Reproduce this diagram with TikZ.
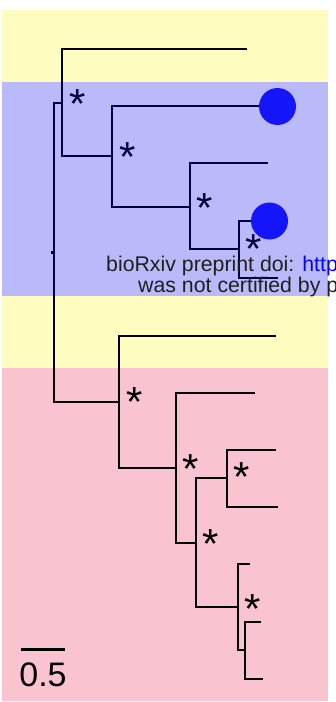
\documentclass[tikz,border=0pt]{standalone}
\usepackage{fontspec}
\setmainfont{Liberation Sans}
\definecolor{bandyellow}{RGB}{255,252,191}
\definecolor{bandpink}{RGB}{249,196,208}
\definecolor{bandblue}{RGB}{0,0,240}
\definecolor{tipblue}{RGB}{30,30,255}
\begin{document}
\begin{tikzpicture}[x=1pt,y=-1pt,
  branch/.style={line width=2.5pt, black},
  ast/.style={font=\fontsize{42}{42}\selectfont, inner sep=0pt, anchor=base},
  tipdot/.style={circle, fill=tipblue, minimum size=37pt, inner sep=0pt},
  wm/.style={font=\fontsize{21.3}{25}\selectfont, inner sep=0pt, anchor=base west, text=black!88}]
\useasboundingbox (0,0) rectangle (335,702);
\clip (0,0) rectangle (335,702);
% bands
\fill[bandyellow] (2,10) rectangle (328,82);
\fill[bandyellow] (2,296) rectangle (328,368);
\fill[bandpink] (2,368) rectangle (328,701);
% tree coordinates
\coordinate (r0) at (51,252.5);
\coordinate (r) at (54,252.5);
\coordinate (b) at (62,103);
\coordinate (c) at (112,156);
\coordinate (d) at (190,207);
\coordinate (e) at (239,249);
\coordinate (f) at (119,402);
\coordinate (g) at (176,468);
\coordinate (h) at (196,543);
\coordinate (i) at (227,478);
\coordinate (j) at (238,607);
\coordinate (k) at (245,650);
\coordinate (L1) at (247,49);
\coordinate (L2) at (265,106);
\coordinate (L3) at (268,163);
\coordinate (L4) at (262,221);
\coordinate (L5) at (278,278);
\coordinate (L6) at (276,336);
\coordinate (L7) at (255,393);
\coordinate (L8) at (276,450);
\coordinate (L9) at (278,507);
\coordinate (L10) at (250,564);
\coordinate (L11) at (261,622);
\coordinate (L12) at (263,679);
% branches
\draw[branch] (r0) -- (r);
\draw[branch] (r) |- (b);
\draw[branch] (r) |- (f);
\draw[branch] (b) |- (L1);
\draw[branch] (b) |- (c);
\draw[branch] (c) |- (L2);
\draw[branch] (c) |- (d);
\draw[branch] (d) |- (L3);
\draw[branch] (d) |- (e);
\draw[branch] (e) |- (L4);
\draw[branch] (e) |- (L5);
\draw[branch] (f) |- (L6);
\draw[branch] (f) |- (g);
\draw[branch] (g) |- (L7);
\draw[branch] (g) |- (h);
\draw[branch] (h) |- (i);
\draw[branch] (h) |- (j);
\draw[branch] (i) |- (L8);
\draw[branch] (i) |- (L9);
\draw[branch] (j) |- (L10);
\draw[branch] (j) |- (k);
\draw[branch] (k) |- (L11);
\draw[branch] (k) |- (L12);
% tip markers
\node[tipdot] (t1) at (277.5,106.5) {};
\node[tipdot] (t2) at (269.5,221) {};
% support asterisks
\node[ast] (a1) at (77.5,98+20.5) {*};
\node[ast] (a2) at (127.5,151+20.5) {*};
\node[ast] (a3) at (205,202+20.5) {*};
\node[ast] (a4) at (254,243+20.5) {*};
\node[ast] (a5) at (135,395.5+20.5) {*};
\node[ast] (a6) at (191,463+20.5) {*};
\node[ast] (a7) at (211,538+20.5) {*};
\node[ast] (a8) at (242,471+20.5) {*};
\node[ast] (a9) at (253,603+20.5) {*};
% blue band overlay
\fill[bandblue, fill opacity=0.27] (2,82) rectangle (328,296);
% scale bar
\coordinate (s1) at (20.7,649.3);
\coordinate (s2) at (65.3,649.3);
\draw[branch] (s1) -- (s2);
\node[font=\fontsize{34}{34}\selectfont, inner sep=0pt, anchor=base] (sl) at (43,686) {0.5};
% watermark text
\node[wm] (w1) at (106,271) {bioRxiv preprint doi: \textcolor{blue}{http}};
\node[wm] (w2) at (138,292) {was not certified by p};
\end{tikzpicture}
\end{document}
